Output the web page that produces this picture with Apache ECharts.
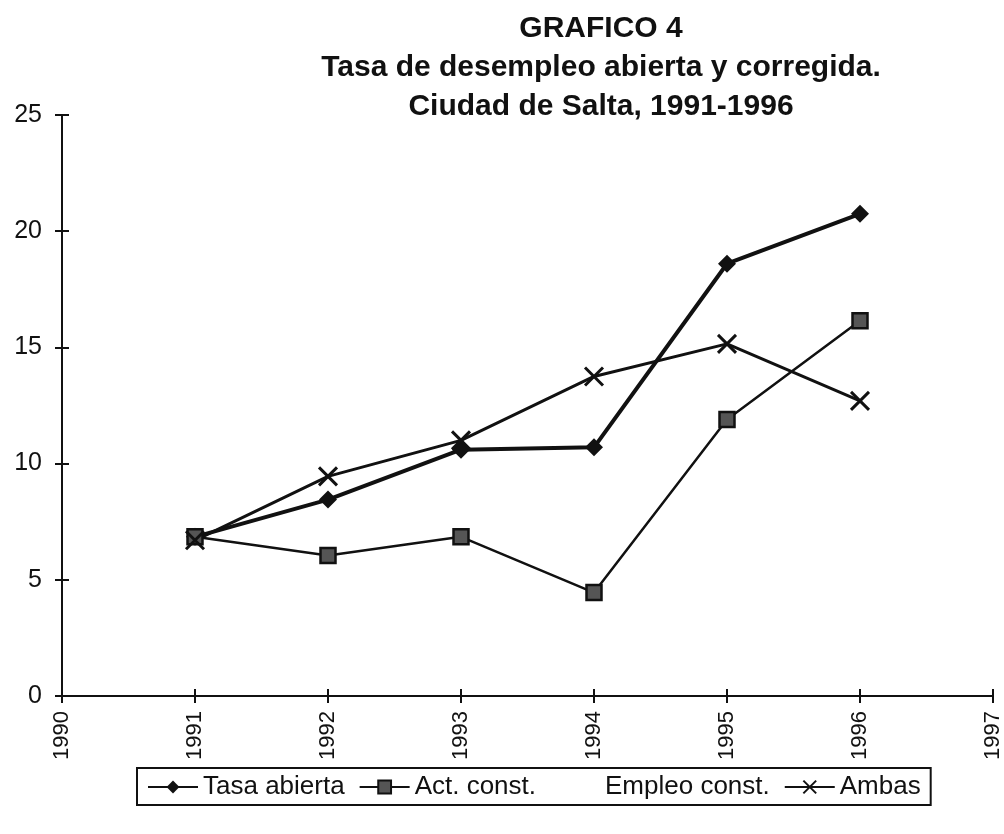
<!DOCTYPE html>
<html><head><meta charset="utf-8">
<script src="https://cdn.jsdelivr.net/npm/echarts@6/dist/echarts.min.js"></script>
<style>html,body{margin:0;padding:0;background:#fff}#c{width:1004px;height:834px}</style>
</head><body><div id="c"></div>
<script>
const years = [1991, 1992, 1993, 1994, 1995, 1996];
const tasaAbierta = [6.85, 8.45, 10.6, 10.7, 18.6, 20.75];
const actConst = [6.85, 6.05, 6.85, 4.45, 11.9, 16.15];
const empleoConst = [];
const ambas = [6.7, 9.45, 11.0, 13.75, 15.15, 12.7];
const titleLines = ['GRAFICO 4', 'Tasa de desempleo abierta y corregida.', 'Ciudad de Salta, 1991-1996'];
const FONT = '"Liberation Sans", Arial, sans-serif';
const INK = '#111';
const pair = (arr) => arr.map((v, i) => [years[i], v]);
const chart = echarts.init(document.getElementById('c'));
const hiddenAxisBase = {
  axisLabel: {show: false}, splitLine: {show: false},
  axisLine: {show: false},
  axisTick: {show: true, inside: true, length: 7, lineStyle: {color: INK, width: 2}}
};
chart.setOption({
  backgroundColor: '#fff',
  animation: false,
  title: {
    text: titleLines.join('\n'),
    left: 596, top: 4, textAlign: 'center',
    textStyle: {fontFamily: FONT, fontSize: 30, fontWeight: 'bold', color: INK, lineHeight: 39, align: 'center'}
  },
  grid: {left: 62, right: 9, top: 115, bottom: 138},
  xAxis: [{
    type: 'value', min: 1990, max: 1997, interval: 1,
    axisLine: {lineStyle: {color: INK, width: 2}},
    axisTick: {show: true, inside: false, length: 7, lineStyle: {color: INK, width: 2}},
    splitLine: {show: false},
    axisLabel: {rotate: 90, margin: 15, fontFamily: FONT, fontSize: 22, color: INK, formatter: v => String(v)}
  }, Object.assign({type: 'value', min: 1990, max: 1997, interval: 1, position: 'bottom'}, hiddenAxisBase)],
  yAxis: [{
    type: 'value', min: 0, max: 25, interval: 5,
    axisLine: {show: true, lineStyle: {color: INK, width: 2}},
    axisTick: {show: true, length: 7, lineStyle: {color: INK, width: 2}},
    splitLine: {show: false},
    axisLabel: {margin: 20, fontFamily: FONT, fontSize: 25, color: INK}
  }, Object.assign({type: 'value', min: 0, max: 25, interval: 5, position: 'left'}, hiddenAxisBase)],
  legend: {
    left: 137, top: 768,
    padding: [6, 10, 5, 10],
    borderColor: INK, borderWidth: 2,
    itemWidth: 50, itemHeight: 16, itemGap: 14,
    textStyle: {fontFamily: FONT, fontSize: 26, color: INK},
    data: ['Tasa abierta', 'Act. const.', 'Empleo const.', 'Ambas']
  },
  series: [
    {name: 'Tasa abierta', type: 'line', data: pair(tasaAbierta), symbol: 'diamond', symbolSize: 18,
     lineStyle: {color: INK, width: 4}, itemStyle: {color: INK}},
    {name: 'Act. const.', type: 'line', data: pair(actConst), symbol: 'rect', symbolSize: 15,
     lineStyle: {color: INK, width: 2.5}, itemStyle: {color: '#555', borderColor: INK, borderWidth: 2.5}},
    {name: 'Empleo const.', type: 'line', data: empleoConst, symbol: 'none',
     lineStyle: {color: 'rgba(0,0,0,0)', width: 0}, itemStyle: {color: 'rgba(0,0,0,0)'}},
    {name: 'Ambas', type: 'line', data: pair(ambas), symbol: 'path://M0,0L10,10M10,0L0,10', symbolSize: 18,
     lineStyle: {color: INK, width: 3}, itemStyle: {color: INK, borderColor: INK, borderWidth: 3}}
  ]
});
</script></body></html>
